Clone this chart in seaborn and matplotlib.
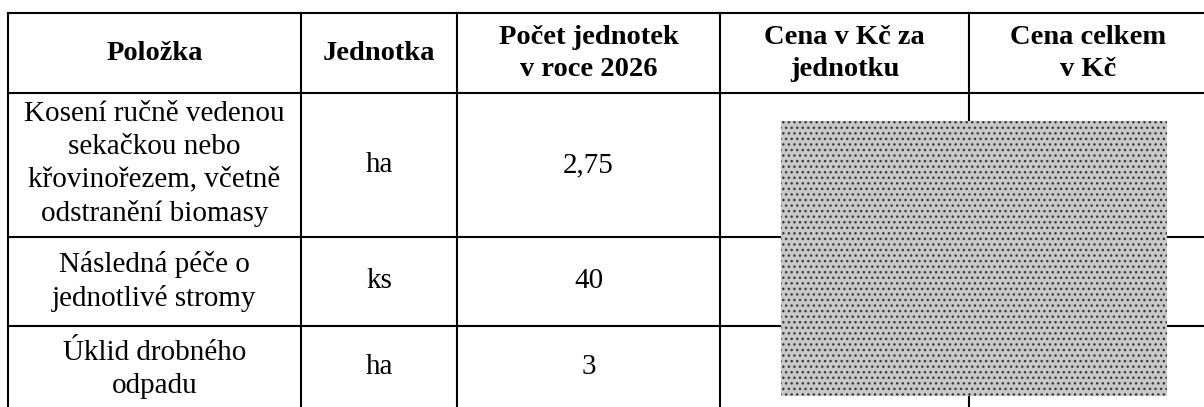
import matplotlib
matplotlib.use("Agg")
import matplotlib.pyplot as plt
from matplotlib.patches import Rectangle
import seaborn as sns

# table content
headers = ["Položka", "Jednotka", "Počet jednotek\nv roce 2026", "Cena v Kč za\njednotku", "Cena celkem\nv Kč"]
items = ["Kosení ručně vedenou\nsekačkou nebo\nkřovinořezem, včetně\nodstranění biomasy",
         "Následná péče o\njednotlivé stromy",
         "Úklid drobného\nodpadu"]
units = ["ha", "ks", "ha"]
counts = ["2,75", "40", "3"]

# layout in pixels (image is 1204 x 407)
col_edges = [8, 301, 457, 720, 969, 1207]
row_edges = [12.5, 93, 237, 326, 420]
patch_box = (781, 121, 1167, 396)  # redacted area

sns.set_theme(style="white")
plt.rcParams["font.family"] = ["Liberation Serif", "DejaVu Serif"]
plt.rcParams["text.color"] = "black"

fig = plt.figure(figsize=(12.04, 4.07), dpi=100)
ax = fig.add_axes([0, 0, 1, 1])
ax.set_xlim(0, 1204)
ax.set_ylim(407, 0)
ax.axis("off")

lw = 1.5
for y in row_edges[:-1]:
    ax.plot([col_edges[0], 1215], [y, y], color="black", lw=lw, solid_capstyle="projecting")
for x in col_edges[:-1]:
    ax.plot([x, x], [row_edges[0], row_edges[-1]], color="black", lw=lw, solid_capstyle="projecting")

fs_head = 20.5
fs_body = 21
cx = [(col_edges[i] + col_edges[i + 1]) / 2 for i in range(5)]
hy = (row_edges[0] + row_edges[1]) / 2
for x, h in zip(cx, headers):
    ax.text(x, hy + 1, h, ha="center", va="center", fontsize=fs_head, fontweight="bold",
            linespacing=1.36)

shift = [-1, 0, 3]
for i, (it, u, c) in enumerate(zip(items, units, counts)):
    top = row_edges[i + 1]
    bot = min(row_edges[i + 2], 407)
    y = (top + bot) / 2
    ax.text(cx[0], y + shift[i], it, ha="center", va="center",
            fontsize=fs_body, linespacing=1.33)
    ax.text(cx[1], y, u, ha="center", va="center", fontsize=fs_body)
    ax.text(cx[2], y, c, ha="center", va="center", fontsize=fs_body)

x0, y0, x1, y1 = patch_box
ax.add_patch(Rectangle((x0, y0), x1 - x0, y1 - y0, facecolor="#c8c8c8",
                       edgecolor="#3a3a3a", hatch="...", lw=0, zorder=5))

fig.savefig("out.png", dpi=100, facecolor="white")
